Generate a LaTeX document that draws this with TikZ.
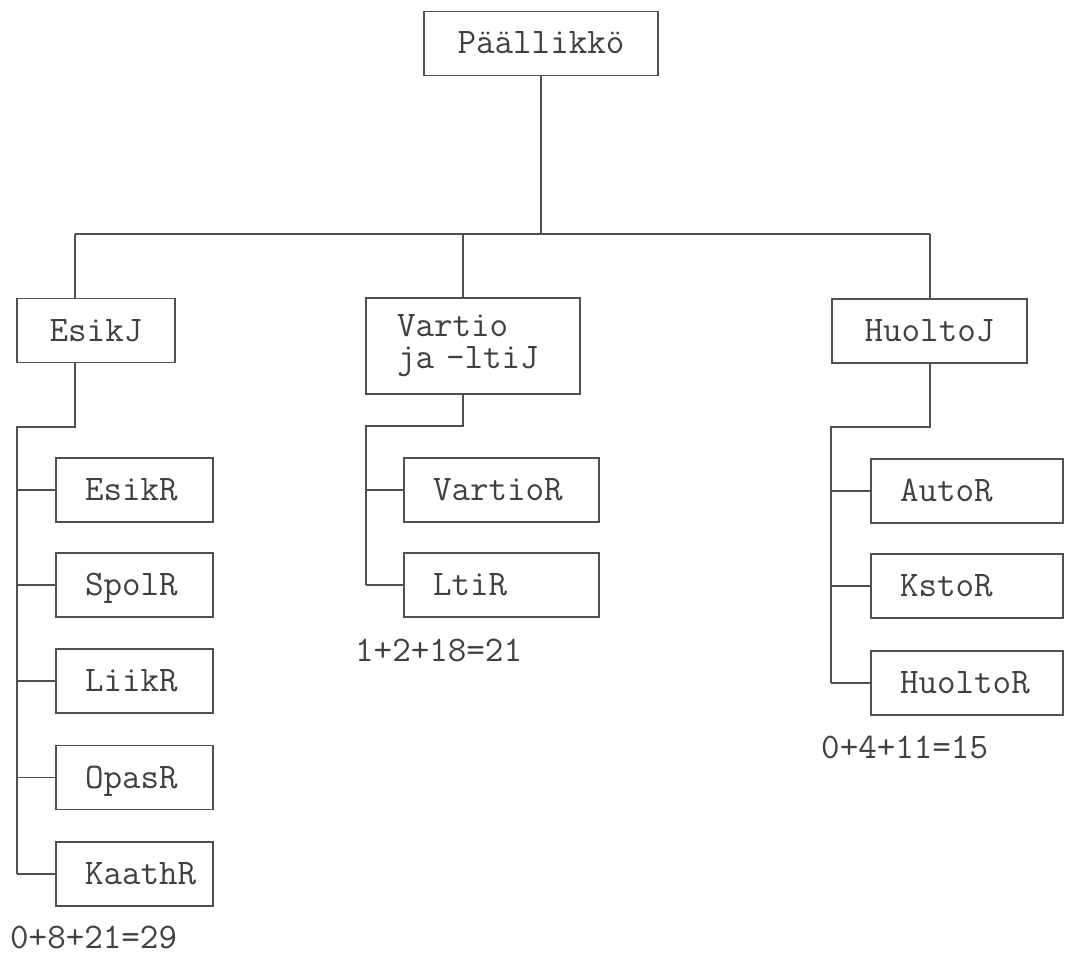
\documentclass[tikz,border=0pt]{standalone}
\usepackage{fontspec}
\definecolor{lc}{HTML}{505050}
\definecolor{tc}{HTML}{404040}
\begin{document}
\begin{tikzpicture}[x=1pt,y=-1pt,
  font=\ttfamily\fontsize{36}{32}\selectfont,
  topbox/.style={draw=lc, line width=1.3pt, inner sep=0pt, text=tc,
    minimum height=64pt, text height=21pt, text depth=0pt},
  twobox/.style={draw=lc, line width=1.3pt, inner sep=0pt, text=tc,
    minimum height=96pt, align=left},
  subbox/.style={draw=lc, line width=1.3pt, inner ysep=0pt, inner xsep=29pt,
    text=tc, minimum height=64pt, text height=21pt, text depth=0pt, align=left},
  conn/.style={draw=lc, line width=1.3pt},
  num/.style={text=tc, inner sep=0pt}]
\useasboundingbox (0,0) rectangle (1065,955);

% top level
\node[topbox, minimum width=234pt] (P) at (541,43.5) {Päällikkö};

% second level
\node[topbox, minimum width=158pt] (EJ) at (96,330.5) {EsikJ};
\node[twobox, minimum width=214pt, text width=152pt] (VJ) at (473,346) {Vartio\\ja -ltiJ};
\node[topbox, minimum width=195pt] (HJ) at (929.5,331) {HuoltoJ};

% Esik units
\node[subbox, text width=99pt] (ER) at (134.5,490) {EsikR};
\node[subbox, text width=99pt] (SR) at (134.5,585) {SpolR};
\node[subbox, text width=99pt] (LR) at (134.5,681) {LiikR};
\node[subbox, text width=99pt] (OR) at (134.5,777.5) {OpasR};
\node[subbox, text width=99pt] (KR) at (134.5,874) {KaathR};

% Vartio units
\node[subbox, text width=137pt] (VR) at (501.5,490) {VartioR};
\node[subbox, text width=137pt] (TR) at (501.5,585) {LtiR};

% Huolto units
\node[subbox, text width=134pt] (AR) at (967,491) {AutoR};
\node[subbox, text width=134pt] (KsR) at (967,586) {KstoR};
\node[subbox, text width=134pt] (HR) at (967,683) {HuoltoR};

% sums
\node[num, anchor=base west] (sumE) at (10,948) {0+8+21=29};
\node[num, anchor=base west] (sumV) at (355,661) {1+2+18=21};
\node[num, anchor=base west] (sumH) at (821,758) {0+4+11=15};

% bus
\coordinate (busL) at (75,234);
\coordinate (busR) at (930,234);
\coordinate (busV) at (463,234);
\draw[conn] (busL) -- (busR);
\draw[conn] (P.south) -- (P.south |- busL);
\draw[conn] (busL) -- (busL |- EJ.north);
\draw[conn] (busV) -- (busV |- VJ.north);
\draw[conn] (busR) -- (busR |- HJ.north);

% Esik branch
\coordinate (et) at (75,427);
\coordinate (el) at (17,427);
\draw[conn] (et |- EJ.south) -- (et) -- (el) -- (el |- KR.west);
\foreach \n in {ER,SR,LR,OR,KR} \draw[conn] (el |- \n.west) -- (\n.west);

% Vartio branch
\coordinate (vt) at (463,426);
\coordinate (vl) at (366,426);
\draw[conn] (vt |- VJ.south) -- (vt) -- (vl) -- (vl |- TR.west);
\foreach \n in {VR,TR} \draw[conn] (vl |- \n.west) -- (\n.west);

% Huolto branch
\coordinate (ht) at (930,427);
\coordinate (hl) at (831,427);
\draw[conn] (ht |- HJ.south) -- (ht) -- (hl) -- (hl |- HR.west);
\foreach \n in {AR,KsR,HR} \draw[conn] (hl |- \n.west) -- (\n.west);
\end{tikzpicture}
\end{document}
